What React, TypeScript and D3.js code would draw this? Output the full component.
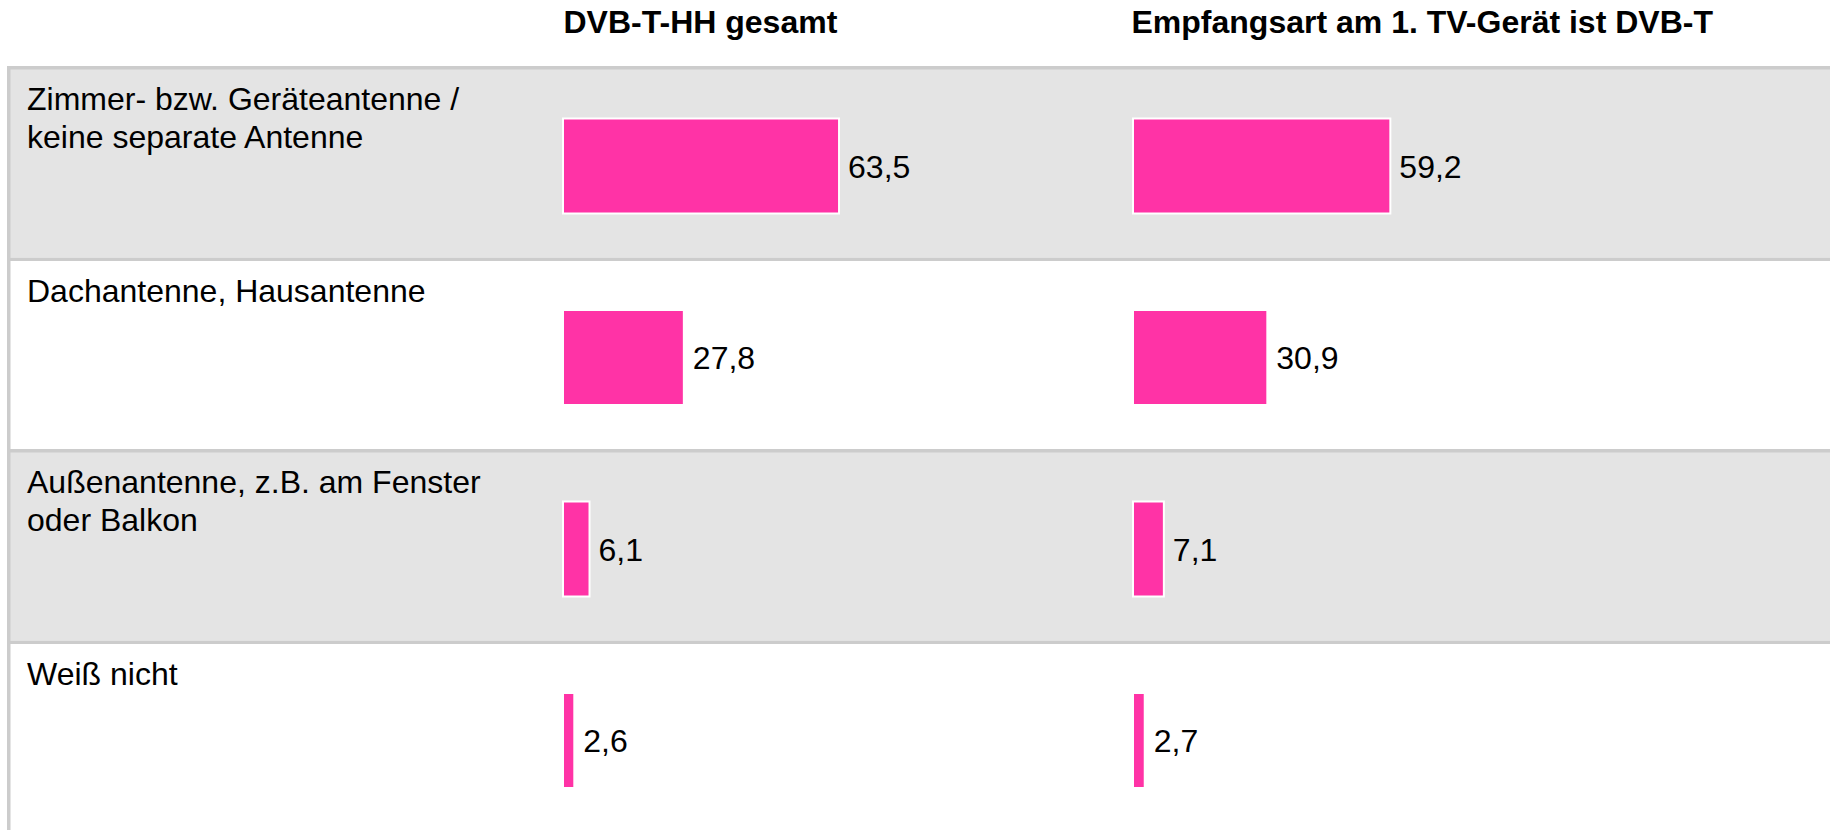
import React from "react";
import * as d3 from "d3";

const categories: string[][] = [
  ["Zimmer- bzw. Geräteantenne /", "keine separate Antenne"],
  ["Dachantenne, Hausantenne"],
  ["Außenantenne, z.B. am Fenster", "oder Balkon"],
  ["Weiß nicht"],
];
const seriesNames = ["DVB-T-HH gesamt", "Empfangsart am 1. TV-Gerät ist DVB-T"];
const seriesGesamt = [63.5, 27.8, 6.1, 2.6];
const seriesEmpfang = [59.2, 30.9, 7.1, 2.7];

const W = 1830;
const H = 830;
const FONT = "'Liberation Sans', Arial, Helvetica, sans-serif";
const PINK = "#ff33a6";
const GRAY = "#e4e4e4";
const LINE = "#cccccc";

export default function App() {
  const keys = categories.map((_, i) => String(i));
  const y = d3.scaleBand<string>().domain(keys).range([66, 66 + 191.5 * 4]).padding(0);
  const x = d3.scaleLinear().domain([0, 100]).range([0, 434.7]);
  const colX = d3.scaleOrdinal<number, number>().domain([0, 1]).range([563, 1133]);
  const series = [seriesGesamt, seriesEmpfang];
  const fmt = (v: number) => d3.format(".1f")(v).replace(".", ",");
  const bw = y.bandwidth();

  return (
    <svg
      width={W}
      height={H}
      style={{ position: "absolute", left: 0, top: 0, background: "#fff" }}
      fontFamily={FONT}
    >
      {seriesNames.map((s, i) => (
        <text key={s} x={colX(i) + (i === 0 ? 0.5 : -1.5)} y={33} fontSize={32} fontWeight="bold" fill="#000">
          {s}
        </text>
      ))}
      {keys.map((k, i) => {
        const top = y(k)!;
        return (
          <g key={k}>
            <rect x={8} y={top} width={W - 8} height={bw} fill={i % 2 === 0 ? GRAY : "#ffffff"} />
            <rect x={8} y={top} width={W - 8} height={3.5} fill={LINE} />
          </g>
        );
      })}
      <rect x={7} y={66} width={3.5} height={H - 66} fill={LINE} />
      {keys.map((k, i) => {
        const top = y(k)!;
        return (
          <text key={"l" + k} x={27} y={top + 44} fontSize={32} fill="#000">
            {categories[i].map((line, j) => (
              <tspan key={j} x={27} dy={j === 0 ? 0 : 37.5}>
                {line}
              </tspan>
            ))}
          </text>
        );
      })}
      {series.map((vals, si) =>
        vals.map((v, i) => {
          const top = y(keys[i])! + 52.5;
          const h = 95;
          const x0 = colX(si);
          const w = x(v);
          return (
            <g key={si + "-" + i}>
              <rect x={x0} y={top} width={w} height={h} fill={PINK} stroke="#ffffff" strokeWidth={2} />
              <text x={x0 + w + 9} y={top + h / 2 + 11.5} fontSize={32} fill="#000">
                {fmt(v)}
              </text>
            </g>
          );
        })
      )}
    </svg>
  );
}
